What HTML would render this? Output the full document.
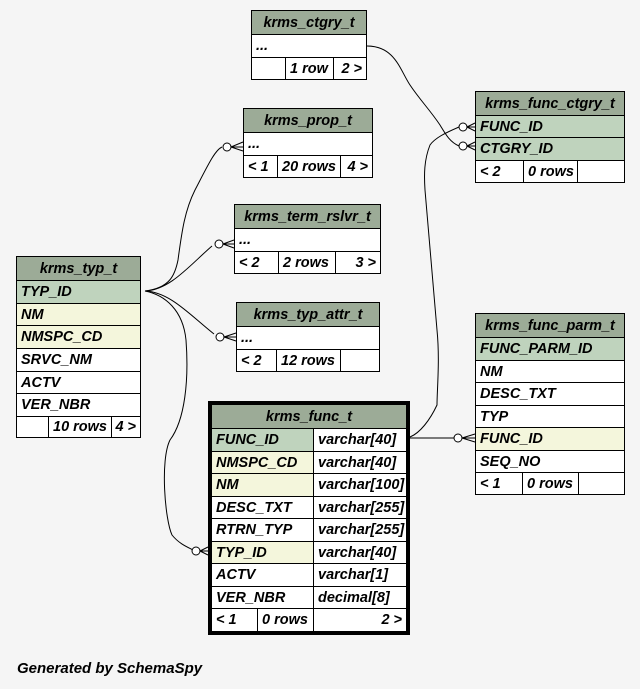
<!DOCTYPE html>
<html><head><meta charset="utf-8"><style>
body{margin:0;background:#f5f5f5;width:640px;height:689px;position:relative;overflow:hidden;font-family:"Liberation Sans",sans-serif;font-weight:bold;font-style:italic;font-size:14.5px;color:#000}
.c{position:absolute;box-sizing:border-box;border:1px solid #000;background:#fff;padding-left:4px;white-space:nowrap;overflow:hidden;display:flex;align-items:center}
.h{background:#9cab97;justify-content:center;padding:0}
.pk{background:#bfd3bd}
.fk{background:#f4f6dc}
.r{justify-content:flex-end;padding-right:4px}
svg{position:absolute;left:0;top:0}
</style></head><body>
<svg width="640" height="689" fill="none" stroke="#000" stroke-width="1">
<path d="M367,46 C395,46 400,70 410,85 C420,100 430,110 440,125 C446,135 450,142 459,146"/>
<path d="M459,127 C445,133 435,138 430,145 C424,160 424,175 425,190 L437,330 C440,360 437,390 437,405 C430,420 420,433 410,437"/>
<path d="M410,438 L454,438"/>
<path d="M145,291 C170,288 175,275 178,260 C182,230 185,210 195,190 C208,165 215,150 222,147"/>
<path d="M145,291 C170,290 190,265 212,246"/>
<path d="M145,291 C170,292 190,315 214,334"/>
<path d="M145,291 C165,295 183,310 186,340 C189,380 185,420 170,440 C160,460 165,520 172,535 C180,545 190,548 195,551"/>
<g fill="#fff">
<circle cx="463" cy="127" r="4"/><circle cx="463" cy="146" r="4"/><circle cx="458" cy="438" r="4"/>
<circle cx="227" cy="147" r="4"/><circle cx="219" cy="244" r="4"/><circle cx="220" cy="337" r="4"/><circle cx="196" cy="551" r="4"/>
</g>
<path d="M467,127 L475,123 M467,127 L475,131 M467,127 L475,127 M467,146 L475,142 M467,146 L475,150 M467,146 L475,146 M462,438 L475,434 M462,438 L475,442 M462,438 L475,438 M231,147 L243,142 M231,147 L243,151 M231,147 L243,147 M223,244 L234,240 M223,244 L234,248 M223,244 L234,244 M224,337 L236,333 M224,337 L236,341 M224,337 L236,337 M200,551 L208,547 M200,551 L208,555 M200,551 L208,551"/>
</svg>

<div class="c h" style="left:251px;top:10px;width:116px;height:25px">krms_ctgry_t</div>
<div class="c" style="left:251px;top:34px;width:116px;height:24px">...</div>
<div class="c" style="left:251px;top:57px;width:35px;height:23px"></div>
<div class="c" style="left:285px;top:57px;width:49px;height:23px">1 row</div>
<div class="c r" style="left:333px;top:57px;width:34px;height:23px">2 &gt;</div>

<div class="c h" style="left:243px;top:108px;width:130px;height:25px">krms_prop_t</div>
<div class="c" style="left:243px;top:132px;width:130px;height:24px">...</div>
<div class="c" style="left:243px;top:155px;width:35px;height:23px">&lt; 1</div>
<div class="c" style="left:277px;top:155px;width:64px;height:23px">20 rows</div>
<div class="c r" style="left:340px;top:155px;width:33px;height:23px">4 &gt;</div>

<div class="c h" style="left:234px;top:204px;width:147px;height:25px">krms_term_rslvr_t</div>
<div class="c" style="left:234px;top:228px;width:147px;height:24px">...</div>
<div class="c" style="left:234px;top:251px;width:45px;height:23px">&lt; 2</div>
<div class="c" style="left:278px;top:251px;width:58px;height:23px">2 rows</div>
<div class="c r" style="left:335px;top:251px;width:46px;height:23px">3 &gt;</div>

<div class="c h" style="left:236px;top:302px;width:144px;height:25px">krms_typ_attr_t</div>
<div class="c" style="left:236px;top:326px;width:144px;height:24px">...</div>
<div class="c" style="left:236px;top:349px;width:41px;height:23px">&lt; 2</div>
<div class="c" style="left:276px;top:349px;width:65px;height:23px">12 rows</div>
<div class="c" style="left:340px;top:349px;width:40px;height:23px"></div>

<div class="c h" style="left:16px;top:256px;width:125px;height:25px">krms_typ_t</div>
<div class="c pk" style="left:16px;top:280px;width:125px;height:24px">TYP_ID</div>
<div class="c fk" style="left:16px;top:303px;width:125px;height:23px">NM</div>
<div class="c fk" style="left:16px;top:325px;width:125px;height:24px">NMSPC_CD</div>
<div class="c" style="left:16px;top:348px;width:125px;height:24px">SRVC_NM</div>
<div class="c" style="left:16px;top:371px;width:125px;height:23px">ACTV</div>
<div class="c" style="left:16px;top:393px;width:125px;height:24px">VER_NBR</div>
<div class="c" style="left:16px;top:416px;width:33px;height:22px"></div>
<div class="c" style="left:48px;top:416px;width:64px;height:22px">10 rows</div>
<div class="c r" style="left:111px;top:416px;width:30px;height:22px">4 &gt;</div>

<div class="c h" style="left:475px;top:91px;width:150px;height:25px">krms_func_ctgry_t</div>
<div class="c pk" style="left:475px;top:115px;width:150px;height:23px">FUNC_ID</div>
<div class="c pk" style="left:475px;top:137px;width:150px;height:24px">CTGRY_ID</div>
<div class="c" style="left:475px;top:160px;width:49px;height:23px">&lt; 2</div>
<div class="c" style="left:523px;top:160px;width:55px;height:23px">0 rows</div>
<div class="c" style="left:577px;top:160px;width:48px;height:23px"></div>

<div class="c h" style="left:475px;top:313px;width:150px;height:25px">krms_func_parm_t</div>
<div class="c pk" style="left:475px;top:337px;width:150px;height:24px">FUNC_PARM_ID</div>
<div class="c" style="left:475px;top:360px;width:150px;height:23px">NM</div>
<div class="c" style="left:475px;top:382px;width:150px;height:24px">DESC_TXT</div>
<div class="c" style="left:475px;top:405px;width:150px;height:23px">TYP</div>
<div class="c fk" style="left:475px;top:427px;width:150px;height:24px">FUNC_ID</div>
<div class="c" style="left:475px;top:450px;width:150px;height:23px">SEQ_NO</div>
<div class="c" style="left:475px;top:472px;width:48px;height:23px">&lt; 1</div>
<div class="c" style="left:522px;top:472px;width:57px;height:23px">0 rows</div>
<div class="c" style="left:578px;top:472px;width:47px;height:23px"></div>

<div style="position:absolute;left:208px;top:401px;width:202px;height:234px;box-sizing:border-box;border:3px solid #000"></div>
<div class="c h" style="left:211px;top:404px;width:196px;height:25px">krms_func_t</div>
<div class="c pk" style="left:211px;top:428px;width:103px;height:24px">FUNC_ID</div>
<div class="c" style="left:313px;top:428px;width:94px;height:24px">varchar[40]</div>
<div class="c fk" style="left:211px;top:451px;width:103px;height:23px">NMSPC_CD</div>
<div class="c" style="left:313px;top:451px;width:94px;height:23px">varchar[40]</div>
<div class="c fk" style="left:211px;top:473px;width:103px;height:24px">NM</div>
<div class="c" style="left:313px;top:473px;width:94px;height:24px">varchar[100]</div>
<div class="c" style="left:211px;top:496px;width:103px;height:23px">DESC_TXT</div>
<div class="c" style="left:313px;top:496px;width:94px;height:23px">varchar[255]</div>
<div class="c" style="left:211px;top:518px;width:103px;height:24px">RTRN_TYP</div>
<div class="c" style="left:313px;top:518px;width:94px;height:24px">varchar[255]</div>
<div class="c fk" style="left:211px;top:541px;width:103px;height:23px">TYP_ID</div>
<div class="c" style="left:313px;top:541px;width:94px;height:23px">varchar[40]</div>
<div class="c" style="left:211px;top:563px;width:103px;height:24px">ACTV</div>
<div class="c" style="left:313px;top:563px;width:94px;height:24px">varchar[1]</div>
<div class="c" style="left:211px;top:586px;width:103px;height:23px">VER_NBR</div>
<div class="c" style="left:313px;top:586px;width:94px;height:23px">decimal[8]</div>
<div class="c" style="left:211px;top:608px;width:47px;height:24px">&lt; 1</div>
<div class="c" style="left:257px;top:608px;width:57px;height:24px">0 rows</div>
<div class="c r" style="left:313px;top:608px;width:94px;height:24px">2 &gt;</div>

<div style="position:absolute;left:17px;top:660px;font-size:15px">Generated by SchemaSpy</div>
</body></html>
